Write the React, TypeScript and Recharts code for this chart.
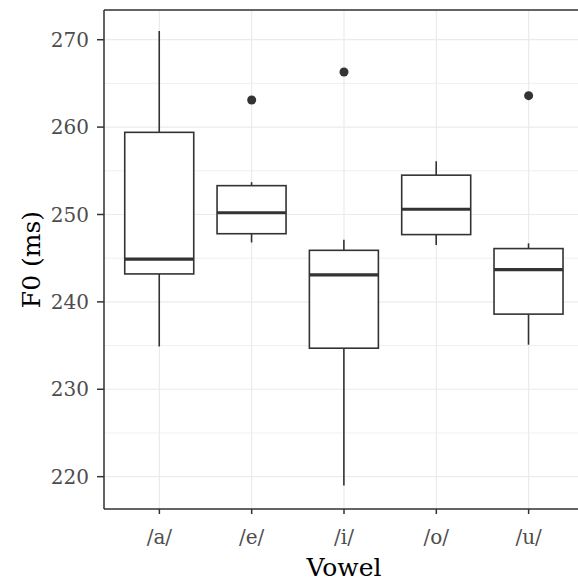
import { Bar, CartesianGrid, ComposedChart, ReferenceLine, Scatter, XAxis, YAxis } from 'recharts'

// F0 per vowel
const vowels = ['/a/', '/e/', '/i/', '/o/', '/u/']
const whiskerLow = [234.9, 246.8, 219.0, 246.5, 235.1]
const q1 = [243.2, 247.8, 234.7, 247.7, 238.6]
const median = [244.9, 250.2, 243.1, 250.6, 243.7]
const q3 = [259.4, 253.3, 245.9, 254.5, 246.1]
const whiskerHigh = [271.0, 253.7, 247.1, 256.1, 246.7]
const outliers: (number | null)[] = [null, 263.1, 266.3, null, 263.6]

const yTicks = [220, 230, 240, 250, 260, 270]
const yMinor = [225, 235, 245, 255, 265]
const yDomain: [number, number] = [216.3, 273.4]

const data = vowels.map((v, i) => ({
  vowel: v,
  range: [whiskerLow[i], whiskerHigh[i]],
  low: whiskerLow[i],
  q1: q1[i],
  median: median[i],
  q3: q3[i],
  high: whiskerHigh[i],
  outlier: outliers[i],
}))

const FONT = '"DejaVu Serif", serif'
const INK = '#333333'

// the bar spans low..high whisker; box parts are placed inside it on the same scale
function BoxShape(props: any) {
  const { x, y, width, height, payload } = props
  const { low, high } = payload
  const toY = (v: number) => y + ((high - v) / (high - low)) * height
  const cx = x + width / 2
  const yQ1 = toY(payload.q1)
  const yQ3 = toY(payload.q3)
  const yMed = toY(payload.median)
  return (
    <g>
      <line x1={cx} x2={cx} y1={y} y2={yQ3} stroke={INK} strokeWidth={1.6} />
      <line x1={cx} x2={cx} y1={yQ1} y2={y + height} stroke={INK} strokeWidth={1.6} />
      <rect x={x} y={yQ3} width={width} height={yQ1 - yQ3} fill="#ffffff" stroke={INK} strokeWidth={1.6} />
      <line x1={x} x2={x + width} y1={yMed} y2={yMed} stroke={INK} strokeWidth={3.2} />
    </g>
  )
}

function OutlierDot(props: any) {
  const { cx, cy, payload } = props
  if (payload == null || payload.outlier == null || !Number.isFinite(cy)) return <g />
  return <circle cx={cx} cy={cy} r={4.5} fill={INK} />
}

function YTitle({ viewBox }: any) {
  const cy = viewBox.y + viewBox.height / 2
  return (
    <text
      x={40}
      y={cy}
      transform={`rotate(-90 40 ${cy})`}
      textAnchor="middle"
      fontFamily={FONT}
      fontSize={25}
      fill="#000000"
    >
      F0 (ms)
    </text>
  )
}

export default function App() {
  return (
    <div style={{ position: 'absolute', left: 0, top: 0, width: 578, height: 582, overflow: 'hidden', background: '#fff' }}>
      <ComposedChart
        width={592}
        height={582}
        data={data}
        margin={{ top: 10, right: 8, bottom: 0, left: 0 }}
        barCategoryGap="12.5%"
      >
        <CartesianGrid stroke="#ebebeb" strokeWidth={0.8} vertical={false} horizontalValues={yMinor} />
        <CartesianGrid stroke="#ebebeb" strokeWidth={1.2} />
        <XAxis
          dataKey="vowel"
          type="category"
          padding={{ left: 9.2, right: 9.2 }}
          height={73}
          axisLine={{ stroke: INK, strokeWidth: 1.5 }}
          tickLine={{ stroke: INK, strokeWidth: 1.5 }}
          tickSize={5}
          tickMargin={16}
          tick={{ fill: '#4d4d4d', fontFamily: FONT, fontSize: 20 }}
          label={{ value: 'Vowel', position: 'insideBottom', offset: 6, fill: '#000', fontFamily: FONT, fontSize: 25 }}
        />
        <YAxis
          type="number"
          domain={yDomain}
          ticks={yTicks}
          allowDataOverflow
          width={104}
          axisLine={{ stroke: INK, strokeWidth: 1.5 }}
          tickLine={{ stroke: INK, strokeWidth: 1.5 }}
          tickSize={7}
          tickMargin={8}
          tick={{ fill: '#4d4d4d', fontFamily: FONT, fontSize: 20 }}
          label={<YTitle />}
        />
        <Bar dataKey="range" shape={<BoxShape />} isAnimationActive={false} />
        <Scatter dataKey="outlier" shape={<OutlierDot />} isAnimationActive={false} />
        {/* panel border on top */}
        <ReferenceLine y={yDomain[1]} stroke={INK} strokeWidth={1.5} ifOverflow="visible" />
      </ComposedChart>
    </div>
  )
}
